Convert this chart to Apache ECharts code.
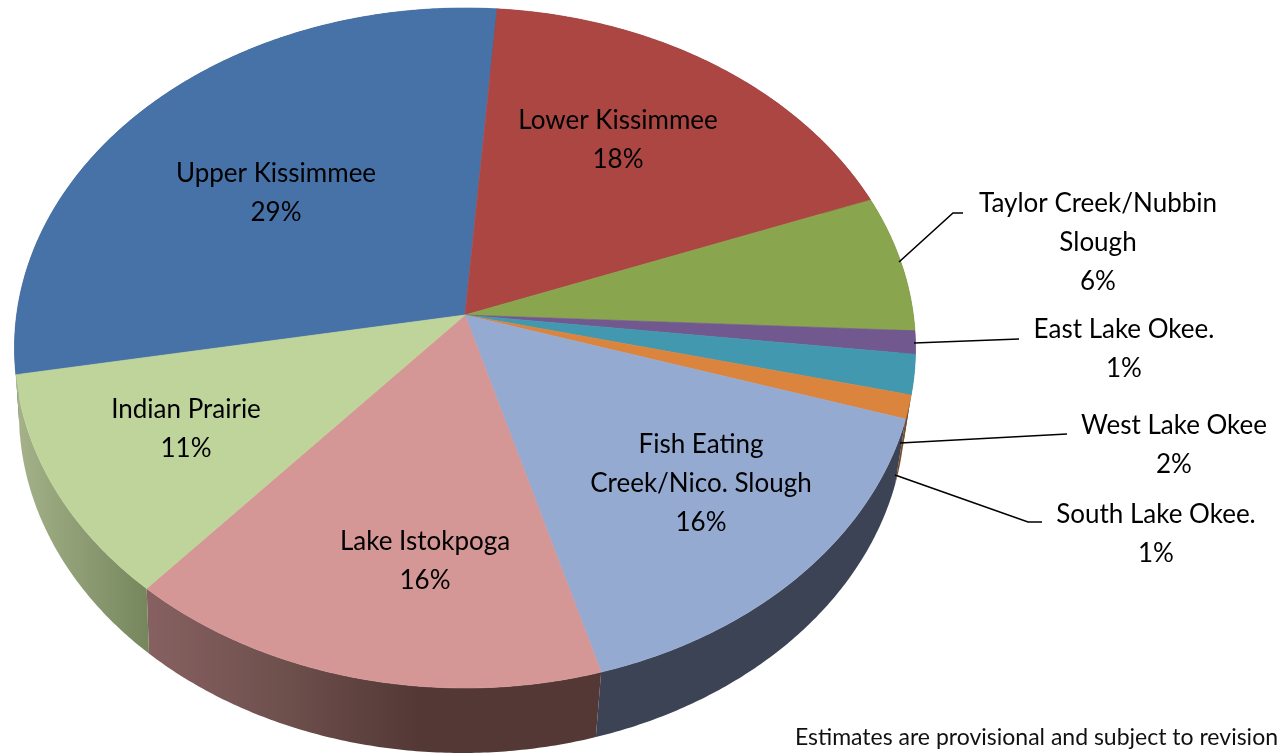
<!DOCTYPE html>
<html>
<head>
<meta charset="utf-8">
<title>Pie</title>
<style>
  html, body { margin: 0; padding: 0; background: #fff; }
  #chart { width: 1286px; height: 754px; }
</style>
<script src="https://cdn.jsdelivr.net/npm/echarts@6/dist/echarts.min.js"></script>
</head>
<body>
<div id="chart"></div>
<script>
// values, labels round them
const regionNames = ['Upper Kissimmee', 'Lower Kissimmee', 'Taylor Creek/Nubbin\nSlough', 'East Lake Okee.',
  'West Lake Okee', 'South Lake Okee.', 'Fish Eating\nCreek/Nico. Slough', 'Lake Istokpoga', 'Indian Prairie'];
const regionValues = [29.04, 18.0, 6.49, 1.1, 1.89, 1.12, 15.71, 15.87, 10.78];
const footnote = 'Estimates are provisional and subject to revision';

// styling + layout, kept apart from the data
const topColors = ['#4672A8', '#AB4642', '#89A54E', '#71588F', '#4198AF', '#DB843D', '#95AAD1', '#D59696', '#BFD49B'];
const grad = (stops) => new echarts.graphic.LinearGradient(0, 0, 1, 0, stops);
const wallColors = [
  '#2a4263', '#642a28', '#50602e', '#423354', '#265967', '#7d4b22', '#3c4354',
  grad([{ offset: 0, color: '#876161' }, { offset: 0.3, color: '#6e504d' }, { offset: 0.6, color: '#533836' }, { offset: 1, color: '#533836' }]),
  grad([{ offset: 0, color: '#a5b28a' }, { offset: 1, color: '#75865d' }])
];
const labelPos = [[276, 193], [618, 140], [1098, 243], [1124, 349], [1174, 445], [1156, 534], [701, 484], [425, 561], [186, 429]];
const leaderLines = [
  [[899, 262], [953, 213], [963, 213]],
  [[914, 343], [1019, 339]],
  [[900, 443], [1067, 434]],
  [[895, 475], [1028, 522], [1042, 522]]
];
const FONT = 'Lato, "Open Sans", sans-serif';

// tilted disc: circle through a perspective map, apex sits above the ellipse centre
const disc = { cx: 465, cy: 315, rx: 448.4, ry: 336.8, k: 0.097, startDeg: 259.96 };
const depth = { cx: 462, scale: 443 / 450.5, dy: 65 };

function rimPoint(deg) {
  const t = deg * Math.PI / 180;
  const u = Math.sin(t), v = -Math.cos(t);
  const den = 1 - disc.k * v;
  return [disc.cx + disc.rx * u / den, disc.cy + disc.ry * v / den];
}
function lowerPoint(deg) {
  const p = rimPoint(deg);
  return [depth.cx + (p[0] - disc.cx) * depth.scale, p[1] + depth.dy];
}
function rimArc(from, to, fn) {
  const pts = [];
  const n = Math.max(2, Math.ceil((to - from) * 2));
  for (let i = 0; i <= n; i++) pts.push(fn(from + (to - from) * i / n));
  return pts;
}

const startAngles = [];
regionValues.reduce((acc, v) => { startAngles.push(acc); return acc + v * 3.6; }, disc.startDeg);

const chart = echarts.init(document.getElementById('chart'), null, { renderer: 'canvas' });

chart.setOption({
  backgroundColor: '#ffffff',
  animation: false,
  series: [
    {
      // side walls, covered by the top face where they face away
      name: 'walls',
      type: 'custom',
      coordinateSystem: 'none',
      silent: true,
      z: 1,
      data: regionValues,
      renderItem: (params, api) => {
        const a = startAngles[params.dataIndex];
        const b = a + api.value(0) * 3.6;
        const points = rimArc(a, b, rimPoint).concat(rimArc(a, b, lowerPoint).reverse());
        return {
          type: 'polygon',
          shape: { points },
          style: { fill: wallColors[params.dataIndex] }
        };
      }
    },
    {
      name: 'regions',
      type: 'custom',
      coordinateSystem: 'none',
      silent: true,
      z: 2,
      data: regionValues,
      renderItem: (params, api) => {
        const a = startAngles[params.dataIndex];
        const b = a + api.value(0) * 3.6;
        const points = [[disc.cx, disc.cy]].concat(rimArc(a, b, rimPoint));
        return {
          type: 'polygon',
          shape: { points },
          style: { fill: topColors[params.dataIndex], stroke: topColors[params.dataIndex], lineWidth: 0.6 }
        };
      }
    },
    {
      name: 'leaders',
      type: 'custom',
      coordinateSystem: 'none',
      silent: true,
      z: 3,
      data: leaderLines.map((_, i) => i),
      renderItem: (params) => ({
        type: 'polyline',
        shape: { points: leaderLines[params.dataIndex] },
        style: { fill: null, stroke: '#000', lineWidth: 1.6 }
      })
    },
    {
      name: 'labels',
      type: 'custom',
      coordinateSystem: 'none',
      silent: true,
      z: 4,
      data: regionValues,
      renderItem: (params, api) => ({
        type: 'text',
        style: {
          text: regionNames[params.dataIndex] + '\n' + Math.round(api.value(0)) + '%',
          x: labelPos[params.dataIndex][0],
          y: labelPos[params.dataIndex][1],
          align: 'center',
          verticalAlign: 'middle',
          fill: '#000',
          font: '26px ' + FONT,
          lineHeight: 39
        }
      })
    }
  ],
  graphic: [{
    type: 'text',
    right: 8,
    top: 726,
    style: { text: footnote, fill: '#111', font: '23px ' + FONT }
  }]
});
</script>
</body>
</html>
